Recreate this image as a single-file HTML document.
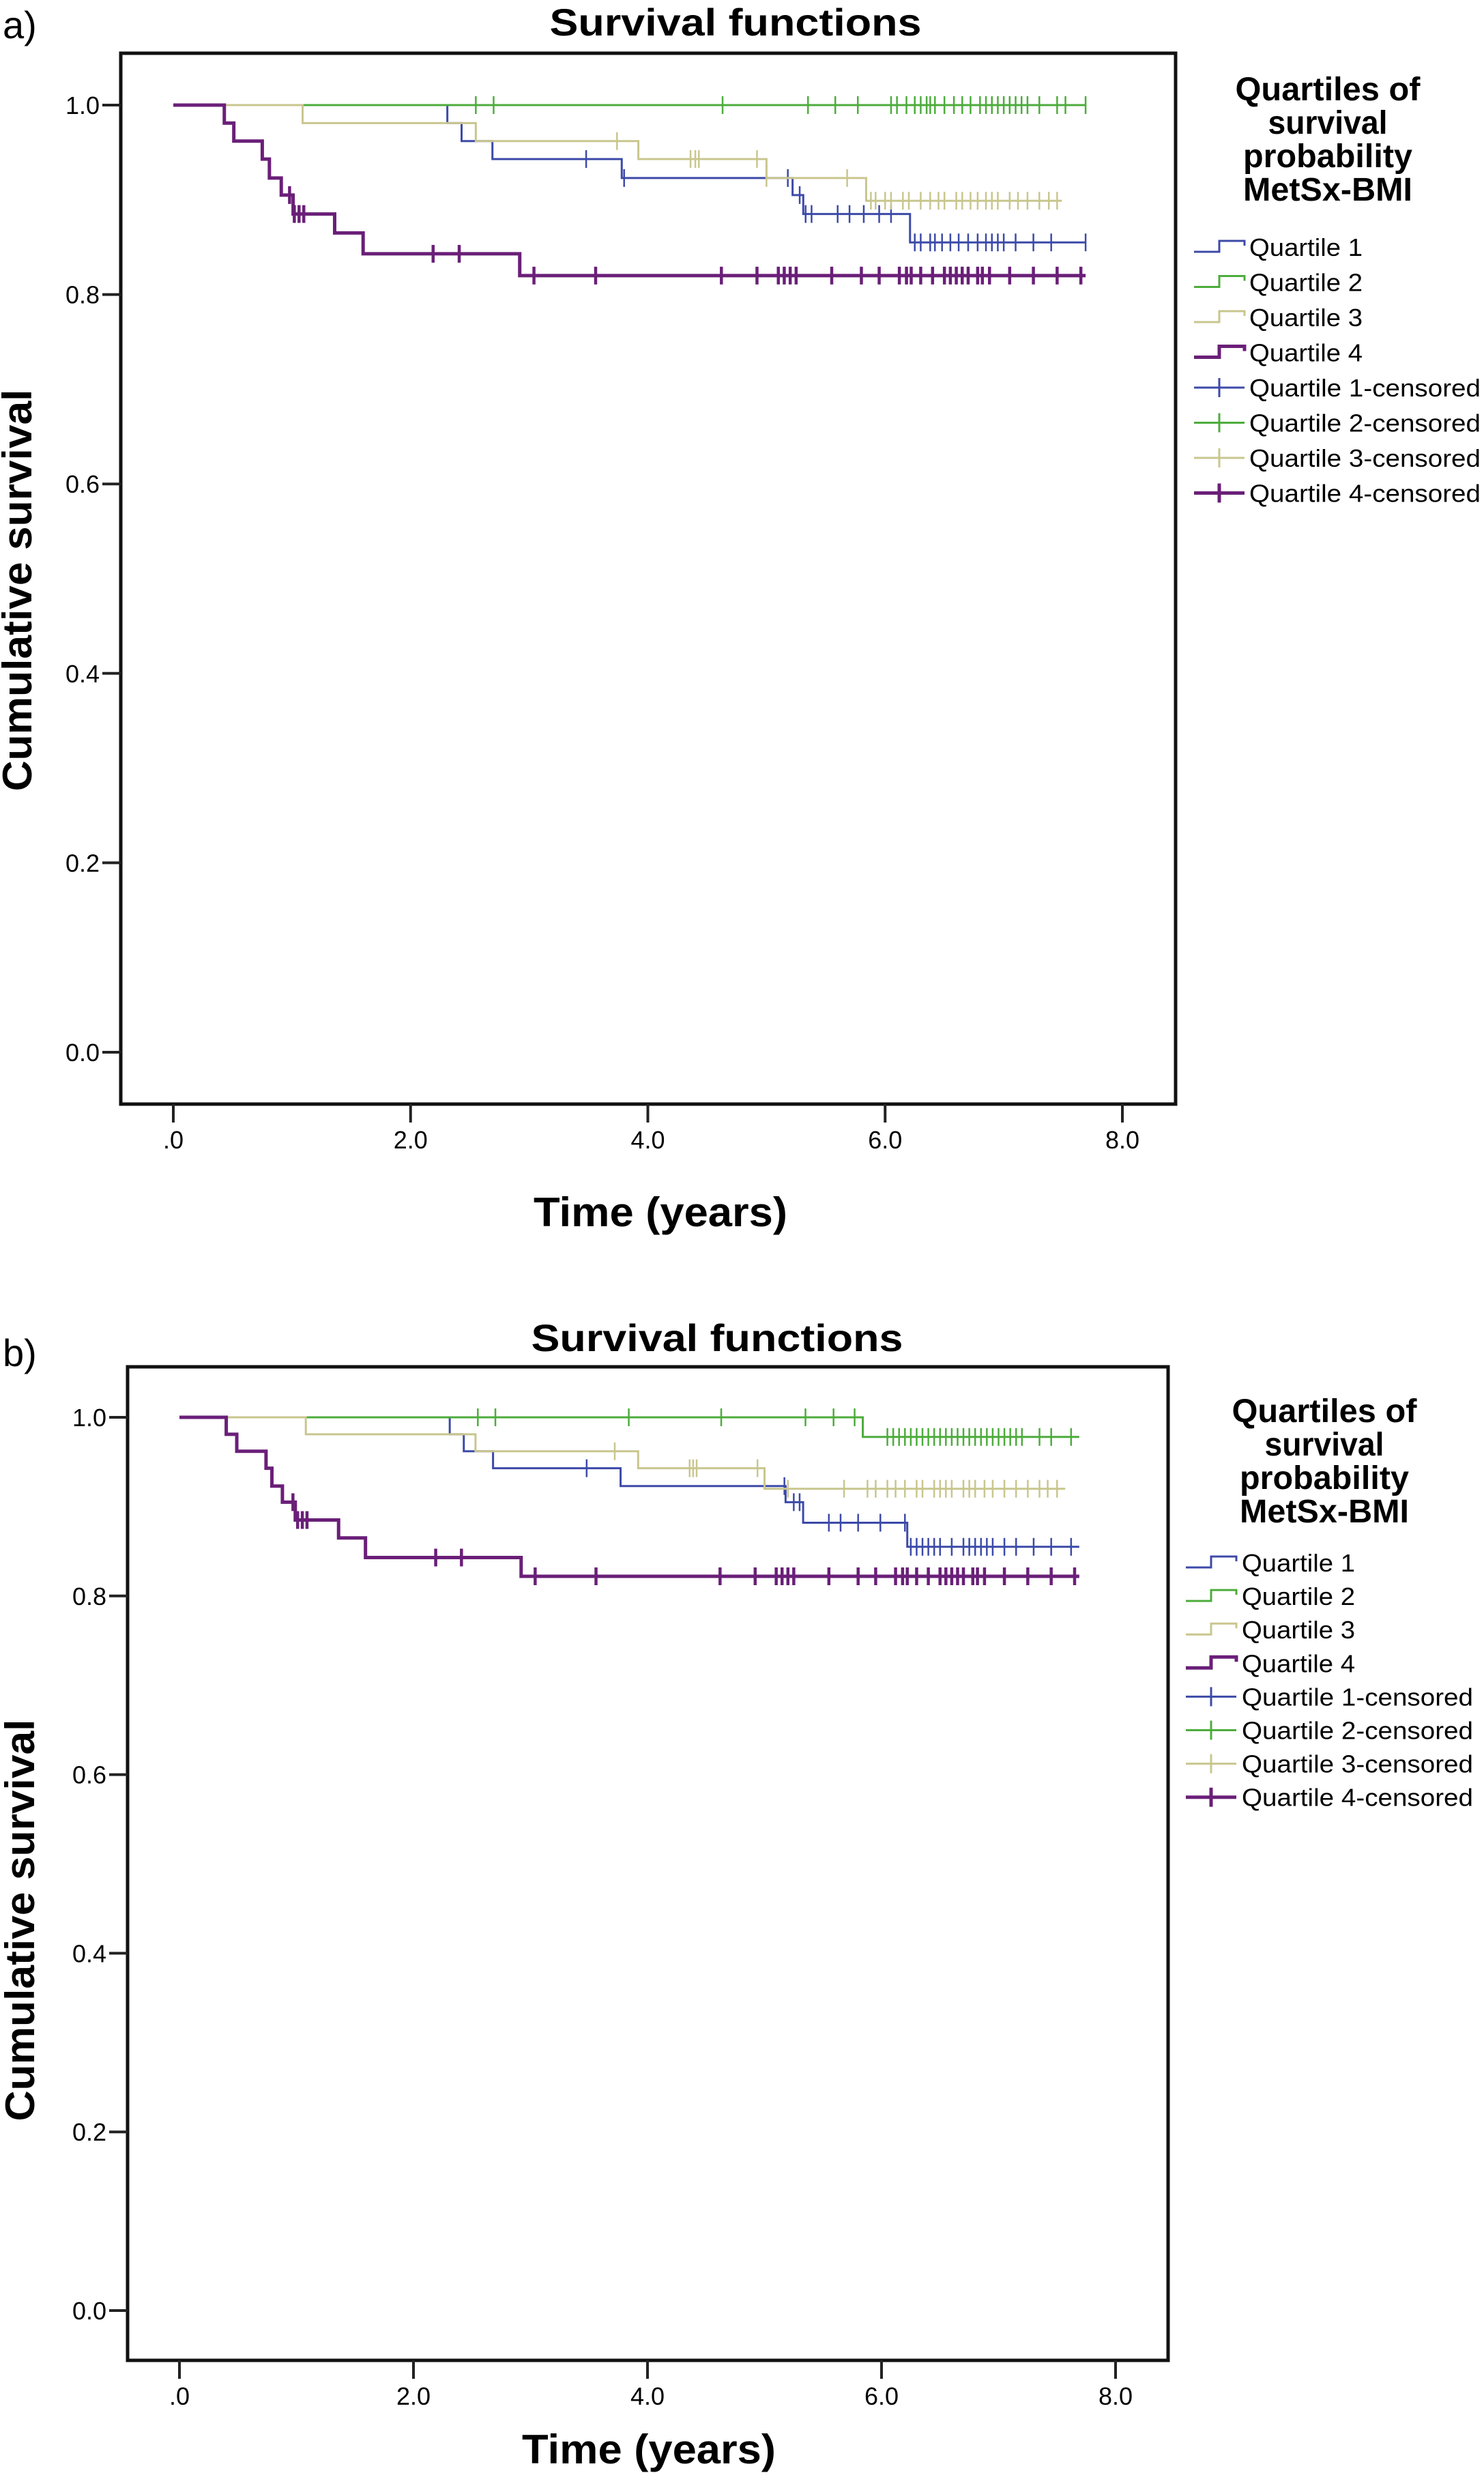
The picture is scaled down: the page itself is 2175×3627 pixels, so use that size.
<!DOCTYPE html>
<html><head><meta charset="utf-8">
<style>
html,body{margin:0;padding:0;background:#fff;}
svg{display:block;}
text{font-family:"Liberation Sans Narrow","Liberation Sans",sans-serif;fill:#000;}
.b{font-weight:bold;}
</style></head>
<body>
<svg id="fig" width="2175" height="3627" viewBox="0 0 2175 3627" xmlns="http://www.w3.org/2000/svg">
<g id="panelA"></g>
<g id="panelB"></g>
</svg>
<script>
// ---------- Data ----------
const xTicks = [0, 2, 4, 6, 8];
const xTickLabels = [".0", "2.0", "4.0", "6.0", "8.0"];
const yTicks = [0, 0.2, 0.4, 0.6, 0.8, 1.0];
const yTickLabels = ["0.0", "0.2", "0.4", "0.6", "0.8", "1.0"];
const seriesNames = ["Quartile 1", "Quartile 2", "Quartile 3", "Quartile 4"];

// Panel a
const a_q1_times = [2.31, 2.43, 2.69, 3.78, 5.22, 5.31, 6.21];
const a_q1_surv  = [0.981, 0.962, 0.943, 0.923, 0.905, 0.885, 0.855];
const a_q1_end = 7.69;
const a_q1_cens = [3.48, 3.80, 5.18, 5.28, 5.33, 5.38, 5.6, 5.7, 5.82, 5.95, 6.05, 6.25, 6.3, 6.38, 6.42, 6.48, 6.55, 6.62, 6.7, 6.78, 6.85, 6.9, 6.95, 7.0, 7.1, 7.25, 7.4, 7.69];
const a_q2_times = [];
const a_q2_surv  = [];
const a_q2_end = 7.69;
const a_q2_cens = [2.55, 2.70, 4.63, 5.35, 5.58, 5.77, 6.05, 6.1, 6.18, 6.25, 6.3, 6.35, 6.38, 6.42, 6.5, 6.58, 6.65, 6.72, 6.8, 6.85, 6.9, 6.95, 7.0, 7.05, 7.1, 7.15, 7.2, 7.3, 7.45, 7.52, 7.69];
const a_q3_times = [1.09, 2.55, 3.92, 5.0, 5.84];
const a_q3_surv  = [0.981, 0.962, 0.943, 0.923, 0.899];
const a_q3_end = 7.49;
const a_q3_cens = [3.74, 4.36, 4.40, 4.43, 4.92, 5.0, 5.68, 5.88, 5.92, 6.0, 6.05, 6.15, 6.2, 6.3, 6.38, 6.45, 6.5, 6.6, 6.65, 6.72, 6.78, 6.85, 6.9, 6.95, 7.05, 7.12, 7.2, 7.3, 7.38, 7.45];
const a_q4_times = [0.43, 0.51, 0.75, 0.81, 0.91, 1.01, 1.36, 1.6, 2.92];
const a_q4_surv  = [0.981, 0.962, 0.943, 0.923, 0.905, 0.885, 0.865, 0.843, 0.82];
const a_q4_end = 7.69;
const a_q4_cens = [0.98, 1.02, 1.06, 1.1, 2.19, 2.41, 3.04, 3.56, 4.62, 4.92, 5.1, 5.15, 5.2, 5.25, 5.55, 5.8, 5.95, 6.12, 6.18, 6.22, 6.3, 6.4, 6.5, 6.55, 6.6, 6.65, 6.7, 6.78, 6.82, 6.88, 7.05, 7.25, 7.45, 7.65];

// Panel b
const b_q1_times = [2.31, 2.43, 2.68, 3.77, 5.18, 5.33, 6.22];
const b_q1_surv  = [0.981, 0.962, 0.943, 0.923, 0.905, 0.882, 0.855];
const b_q1_end = 7.69;
const b_q1_cens = [3.48, 5.17, 5.25, 5.3, 5.55, 5.65, 5.8, 5.99, 6.2, 6.25, 6.3, 6.35, 6.4, 6.45, 6.5, 6.6, 6.7, 6.75, 6.8, 6.85, 6.9, 6.95, 7.05, 7.15, 7.3, 7.45, 7.62];
const b_q2_times = [5.84];
const b_q2_surv  = [0.978];
const b_q2_end = 7.69;
const b_q2_cens = [2.55, 2.70, 3.84, 4.63, 5.35, 5.59, 5.77, 6.05, 6.1, 6.15, 6.2, 6.25, 6.3, 6.35, 6.4, 6.45, 6.5, 6.55, 6.6, 6.65, 6.7, 6.75, 6.8, 6.85, 6.9, 6.95, 7.0, 7.05, 7.1, 7.15, 7.2, 7.35, 7.45, 7.62];
const b_q3_times = [1.08, 2.53, 3.92, 5.0];
const b_q3_surv  = [0.981, 0.962, 0.943, 0.92];
const b_q3_end = 7.57;
const b_q3_cens = [3.72, 4.36, 4.39, 4.42, 4.94, 5.2, 5.68, 5.88, 5.95, 6.05, 6.12, 6.2, 6.3, 6.35, 6.45, 6.5, 6.55, 6.6, 6.7, 6.75, 6.8, 6.88, 6.95, 7.05, 7.15, 7.25, 7.35, 7.42, 7.5];
const b_q4_times = [0.40, 0.49, 0.74, 0.79, 0.88, 0.99, 1.36, 1.59, 2.92];
const b_q4_surv  = [0.981, 0.962, 0.943, 0.923, 0.905, 0.885, 0.865, 0.843, 0.822];
const b_q4_end = 7.69;
const b_q4_cens = [0.97, 1.01, 1.05, 1.09, 2.19, 2.41, 3.04, 3.56, 4.62, 4.92, 5.1, 5.15, 5.2, 5.25, 5.55, 5.8, 5.95, 6.12, 6.18, 6.22, 6.3, 6.4, 6.5, 6.55, 6.6, 6.65, 6.7, 6.78, 6.82, 6.88, 7.05, 7.25, 7.45, 7.65];

const colors = ["#3c4aa8", "#4dac3c", "#c9c68e", "#6a1f78"];
const widths = [3, 3, 3, 5];

const NS = "http://www.w3.org/2000/svg";
function mk(parent, tag, attrs) {
  const e = document.createElementNS(NS, tag);
  for (const k in attrs) e.setAttribute(k, attrs[k]);
  parent.appendChild(e);
  return e;
}
function txt(parent, x, y, s, size, opts) {
  const e = mk(parent, "text", Object.assign({x: x, y: y, "font-size": size}, opts || {}));
  e.textContent = s;
  return e;
}
function levelAt(times, surv, t) {
  let s = 1;
  for (let i = 0; i < times.length; i++) if (t >= times[i]) s = surv[i];
  return s;
}

function drawPanel(g, L, series) {
  const xS = t => L.x0 + (L.x8 - L.x0) * t / 8;
  const yS = s => L.y0 - (L.y0 - L.y1) * s;

  const lbl = txt(g, L.labX, L.labY, L.lab, 56);
  
  

  const title = txt(g, L.titleX, L.titleY, "Survival functions", 56, {"class": "b", "text-anchor": "middle", textLength: 545, lengthAdjust: "spacingAndGlyphs"});
  
  

  const box = mk(g, "rect", {x: L.left, y: L.top, width: L.right - L.left, height: L.bottom - L.top, fill: "none", stroke: "#111", "stroke-width": 5});
  
  

  xTicks.forEach((v, i) => {
    const x = xS(v);
    const tk = mk(g, "line", {x1: x, x2: x, y1: L.bottom, y2: L.bottom + 27, stroke: "#222", "stroke-width": 4});
    
    
    const t = txt(g, x, L.bottom + 65, xTickLabels[i], 36, {"text-anchor": "middle"});
    
    
  });
  yTicks.forEach((v, i) => {
    const y = yS(v);
    const tk = mk(g, "line", {x1: L.left - 27, x2: L.left, y1: y, y2: y, stroke: "#222", "stroke-width": 4});
    
    
    const t = txt(g, L.left - 31, y + 13, yTickLabels[i], 36, {"text-anchor": "end"});
    
    
  });

  const xt = txt(g, L.xtX, L.xtY, "Time (years)", 60, {"class": "b", "text-anchor": "middle", textLength: 372, lengthAdjust: "spacingAndGlyphs"});
  
  
  const yt = txt(g, 0, 0, "Cumulative survival", 60, {"class": "b", "text-anchor": "middle", textLength: 589, lengthAdjust: "spacingAndGlyphs", transform: "translate(" + L.ytX + "," + L.ytY + ") rotate(-90)"});
  
  

  series.forEach((s, k) => {
    let d = "M" + xS(0) + "," + yS(1);
    let cur = 1;
    for (let i = 0; i < s.times.length; i++) {
      const x = xS(s.times[i]);
      d += " H" + x + " V" + yS(s.surv[i]);
      cur = s.surv[i];
    }
    d += " H" + xS(s.end);
    const p = mk(g, "path", {d: d, fill: "none", stroke: colors[k], "stroke-width": widths[k]});
    
    
    s.cens.forEach(t => {
      const x = xS(t), y = yS(levelAt(s.times, s.surv, t));
      const c = mk(g, "line", {x1: x, x2: x, y1: y - 13, y2: y + 13, stroke: colors[k], "stroke-width": widths[k] - 0.5});
      
      
    });
  });

  // legend
  const lt = ["Quartiles of", "survival", "probability", "MetSx-BMI"];
  const ltw = [271, 175, 248, 248];
  lt.forEach((s, i) => {
    const t = txt(g, L.legCX, L.legTY + i * 49, s, 48, {"class": "b", "text-anchor": "middle", textLength: ltw[i], lengthAdjust: "spacingAndGlyphs"});
    
    
  });
  for (let i = 0; i < 8; i++) {
    const k = i % 4;
    const y = L.legY + i * L.legStep;
    const x0 = L.legSX, x1 = L.legSX + 74;
    let sym;
    if (i < 4) {
      sym = mk(g, "path", {d: "M" + x0 + "," + (y + 7) + " H" + (x0 + 37) + " V" + (y - 9) + " H" + x1 + " V" + (y - 2), fill: "none", stroke: colors[k], "stroke-width": widths[k]});
    } else {
      sym = mk(g, "path", {d: "M" + x0 + "," + y + " H" + x1 + " M" + (x0 + 37) + "," + (y - 14) + " V" + (y + 14), fill: "none", stroke: colors[k], "stroke-width": widths[k]});
    }
    
    
    const label = seriesNames[k] + (i < 4 ? "" : "-censored");
    const t = txt(g, L.legTX, y + 13, label, 36, {textLength: i < 4 ? 166 : 339, lengthAdjust: "spacingAndGlyphs"});
    
    
  }
}

drawPanel(document.getElementById("panelA"), {
  lab: "a)", labX: 4, labY: 56,
  titleX: 1078, titleY: 52,
  left: 177, right: 1723, top: 78, bottom: 1618,
  x0: 254, x8: 1645, y0: 1542, y1: 154,
  xtX: 968, xtY: 1797, ytX: 46, ytY: 865,
  legCX: 1946, legTY: 147, legY: 362, legStep: 51.5, legSX: 1750, legTX: 1831
}, [
  {times: a_q1_times, surv: a_q1_surv, end: a_q1_end, cens: a_q1_cens},
  {times: a_q2_times, surv: a_q2_surv, end: a_q2_end, cens: a_q2_cens},
  {times: a_q3_times, surv: a_q3_surv, end: a_q3_end, cens: a_q3_cens},
  {times: a_q4_times, surv: a_q4_surv, end: a_q4_end, cens: a_q4_cens}
]);

drawPanel(document.getElementById("panelB"), {
  lab: "b)", labX: 4, labY: 2002,
  titleX: 1051, titleY: 1980,
  left: 187, right: 1712, top: 2003, bottom: 3459,
  x0: 263, x8: 1635, y0: 3386, y1: 2077,
  xtX: 951, xtY: 3610, ytX: 50, ytY: 2814,
  legCX: 1941, legTY: 2084, legY: 2290, legStep: 49.1, legSX: 1738, legTX: 1820
}, [
  {times: b_q1_times, surv: b_q1_surv, end: b_q1_end, cens: b_q1_cens},
  {times: b_q2_times, surv: b_q2_surv, end: b_q2_end, cens: b_q2_cens},
  {times: b_q3_times, surv: b_q3_surv, end: b_q3_end, cens: b_q3_cens},
  {times: b_q4_times, surv: b_q4_surv, end: b_q4_end, cens: b_q4_cens}
]);
</script>
</body></html>
